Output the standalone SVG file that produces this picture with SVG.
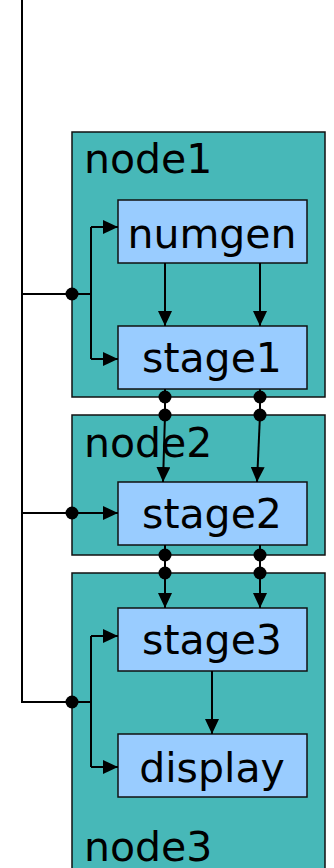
<svg xmlns="http://www.w3.org/2000/svg" width="334" height="868" viewBox="0 0 334 868">
  <style>
    .node { fill: #47B8B8; stroke: #111; stroke-width: 1.5; }
    .proc { fill: #99CCFF; stroke: #111; stroke-width: 1.5; }
    .lbl { font-family: "DejaVu Sans", Verdana, sans-serif; font-size: 41px; fill: #000; }
    .mid { text-anchor: middle; }
    .wire { fill: none; stroke: #000; stroke-width: 2; }
    .dot { fill: #000; }
  </style>
  <defs>
    <marker id="arrow" markerUnits="userSpaceOnUse" markerWidth="15" markerHeight="14" refX="15" refY="7" orient="auto">
      <path d="M0,0 L15,7 L0,14 z" fill="#000"/>
    </marker>
  </defs>
  <rect width="334" height="868" fill="#fff"/>

  <!-- container nodes -->
  <g id="node1">
    <rect class="node" x="72" y="132" width="253" height="265"/>
    <text class="lbl" x="84" y="173">node1</text>
  </g>
  <g id="node2">
    <rect class="node" x="72" y="415" width="253" height="140"/>
    <text class="lbl" x="84" y="457">node2</text>
  </g>
  <g id="node3">
    <rect class="node" x="72" y="573" width="253" height="310"/>
    <text class="lbl" x="84" y="861">node3</text>
  </g>

  <!-- process boxes -->
  <g id="numgen">
    <rect class="proc" x="118" y="200" width="189" height="63"/>
    <text class="lbl mid" x="212" y="248">numgen</text>
  </g>
  <g id="stage1">
    <rect class="proc" x="118" y="326" width="189" height="63"/>
    <text class="lbl mid" x="212" y="372">stage1</text>
  </g>
  <g id="stage2">
    <rect class="proc" x="118" y="482" width="189" height="63"/>
    <text class="lbl mid" x="212" y="528">stage2</text>
  </g>
  <g id="stage3">
    <rect class="proc" x="118" y="608" width="189" height="63"/>
    <text class="lbl mid" x="212" y="654">stage3</text>
  </g>
  <g id="display">
    <rect class="proc" x="118" y="734" width="189" height="63"/>
    <text class="lbl mid" x="212" y="782">display</text>
  </g>

  <!-- connectors -->
  <g id="connectors">
    <!-- control bus on the left -->
    <path class="wire" d="M22,0 V702 H91"/>
    <path class="wire" d="M22,294 H91"/>
    <path class="wire" d="M91,227 V359"/>
    <path class="wire" d="M91,227 H118" marker-end="url(#arrow)"/>
    <path class="wire" d="M91,359 H118" marker-end="url(#arrow)"/>
    <path class="wire" d="M22,513 H118" marker-end="url(#arrow)"/>
    <path class="wire" d="M91,636 V767"/>
    <path class="wire" d="M91,636 H118" marker-end="url(#arrow)"/>
    <path class="wire" d="M91,767 H118" marker-end="url(#arrow)"/>
    <circle class="dot" cx="72" cy="294" r="6.5"/>
    <circle class="dot" cx="72" cy="513" r="6.5"/>
    <circle class="dot" cx="72" cy="702" r="6.5"/>

    <!-- numgen to stage1 -->
    <path class="wire" d="M165,263 V326" marker-end="url(#arrow)"/>
    <path class="wire" d="M260,263 V326" marker-end="url(#arrow)"/>

    <!-- stage1 to stage2 across node1/node2 -->
    <path class="wire" d="M165,389 V415"/>
    <path class="wire" d="M260,389 V415"/>
    <path class="wire" d="M165,415 L163,482" marker-end="url(#arrow)"/>
    <path class="wire" d="M260,415 L257,482" marker-end="url(#arrow)"/>
    <circle class="dot" cx="165" cy="397" r="6.5"/>
    <circle class="dot" cx="260" cy="397" r="6.5"/>
    <circle class="dot" cx="165" cy="415" r="6.5"/>
    <circle class="dot" cx="260" cy="415" r="6.5"/>

    <!-- stage2 to stage3 across node2/node3 -->
    <path class="wire" d="M165,545 V573"/>
    <path class="wire" d="M260,545 V573"/>
    <path class="wire" d="M165,573 V608" marker-end="url(#arrow)"/>
    <path class="wire" d="M260,573 V608" marker-end="url(#arrow)"/>
    <circle class="dot" cx="165" cy="555" r="6.5"/>
    <circle class="dot" cx="260" cy="555" r="6.5"/>
    <circle class="dot" cx="165" cy="573" r="6.5"/>
    <circle class="dot" cx="260" cy="573" r="6.5"/>

    <!-- stage3 to display -->
    <path class="wire" d="M212,671 V734" marker-end="url(#arrow)"/>
  </g>
</svg>
